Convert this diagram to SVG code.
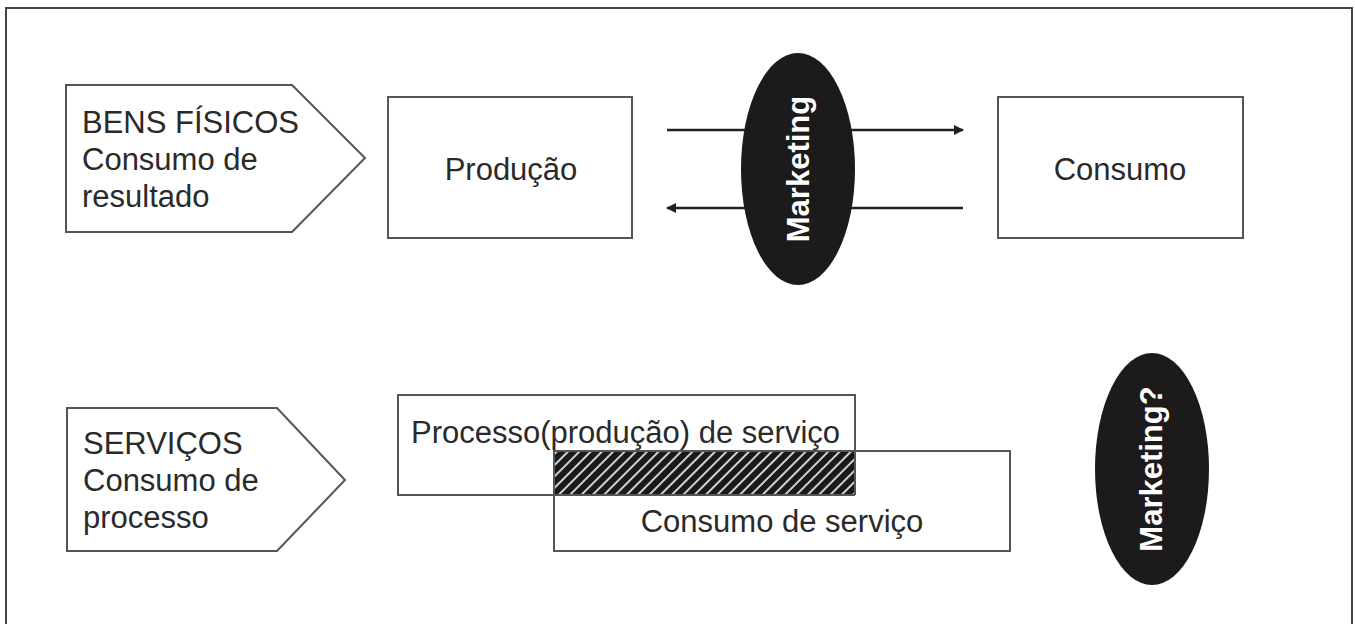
<svg xmlns="http://www.w3.org/2000/svg" width="1355" height="624" viewBox="0 0 1355 624">
<style>
.box{fill:#fff;stroke:#555;stroke-width:2}
.t{font-family:"Liberation Sans",Arial,sans-serif;font-size:31px;fill:#2a2a2a}
.m{font-family:"Liberation Sans",Arial,sans-serif;font-size:31px;font-weight:bold;fill:#fff}
.ell{fill:#1c1a1b}
.conn{stroke:#222;stroke-width:2.5;fill:none}
</style>
<defs>
<marker id="ah" viewBox="0 0 10 10" refX="9" refY="5" markerWidth="4" markerHeight="4" orient="auto-start-reverse" markerUnits="strokeWidth">
<path d="M0,0 L10,5 L0,10 Z" fill="#222"/>
</marker>
<pattern id="hatch" patternUnits="userSpaceOnUse" width="8" height="8" patternTransform="rotate(45)">
<rect width="8" height="8" fill="#1a1a1a"/>
<line x1="1" y1="0" x2="1" y2="8" stroke="#fff" stroke-width="1.6"/>
</pattern>
</defs>
<rect width="1355" height="624" fill="#fff"/>
<rect x="6" y="8" width="1346" height="640" fill="none" stroke="#444" stroke-width="2"/>

<g id="connectors">
<line class="conn" x1="667" y1="130" x2="963" y2="130" marker-end="url(#ah)"/>
<line class="conn" x1="963" y1="208" x2="667" y2="208" marker-end="url(#ah)"/>
</g>

<g id="bens-fisicos">
<path class="box" d="M66,85 L292,85 L365,158 L292,232 L66,232 Z"/>
<text class="t" x="82" y="133">BENS FÍSICOS</text>
<text class="t" x="82" y="170">Consumo de</text>
<text class="t" x="82" y="207">resultado</text>
</g>

<g id="producao">
<rect class="box" x="388" y="97" width="244" height="141"/>
<text class="t" x="511" y="180" text-anchor="middle">Produção</text>
</g>

<g id="consumo">
<rect class="box" x="998" y="97" width="245" height="141"/>
<text class="t" x="1120" y="180" text-anchor="middle">Consumo</text>
</g>

<g id="marketing">
<ellipse class="ell" cx="798" cy="169" rx="57" ry="116"/>
<text class="m" transform="translate(809,169) rotate(-90)" text-anchor="middle">Marketing</text>
</g>

<g id="servicos">
<path class="box" d="M67,408 L277,408 L345,480 L277,551 L67,551 Z"/>
<text class="t" x="83" y="454">SERVIÇOS</text>
<text class="t" x="83" y="491">Consumo de</text>
<text class="t" x="83" y="528">processo</text>
</g>

<g id="processo">
<rect class="box" x="398" y="395" width="457" height="100"/>
<text class="t" x="411" y="443">Processo(produção) de serviço</text>
</g>

<g id="consumo-servico">
<rect class="box" x="554" y="451" width="456" height="100"/>
<rect x="555" y="452" width="299" height="42" fill="url(#hatch)"/>
<line x1="554" y1="495" x2="855" y2="495" stroke="#555" stroke-width="2"/>
<line x1="855" y1="451" x2="855" y2="495" stroke="#555" stroke-width="2"/>
<text class="t" x="782" y="532" text-anchor="middle">Consumo de serviço</text>
</g>

<g id="marketing-q">
<ellipse class="ell" cx="1152" cy="469" rx="57" ry="116"/>
<text class="m" transform="translate(1162,469) rotate(-90)" text-anchor="middle">Marketing?</text>
</g>
</svg>
